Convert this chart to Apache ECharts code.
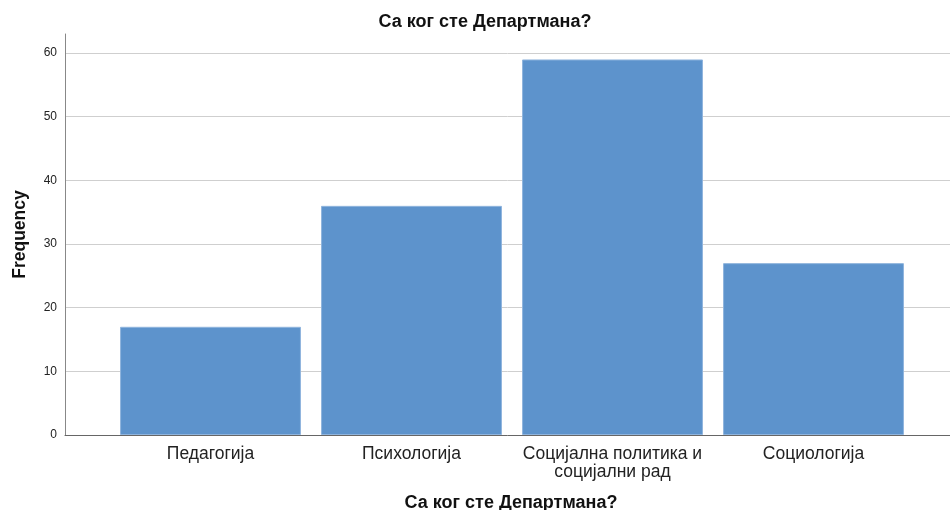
<!DOCTYPE html>
<html><head><meta charset="utf-8">
<script src="https://cdn.jsdelivr.net/npm/echarts@6/dist/echarts.min.js"></script>
<style>html,body{margin:0;padding:0;background:#fff}#c{width:950px;height:510px}</style>
</head><body><div id="c"></div>
<script>
const titleText = 'Са ког сте Департмана?';
const categories = ['Педагогија', 'Психологија', 'Социјална политика и\nсоцијални рад', 'Социологија'];
const frequencies = [17, 36, 59, 27];
const yTicks = { min: 0, max: 63, interval: 10 };

const font = 'Arial, "Liberation Sans", sans-serif';
const chart = echarts.init(document.getElementById('c'), null, { renderer: 'canvas' });
chart.setOption({
  animation: false,
  backgroundColor: '#fff',
  title: {
    text: titleText, left: 480, top: 8, textAlign: 'center',
    textStyle: { fontFamily: font, fontSize: 18, fontWeight: 'bold', color: '#111' }
  },
  grid: [
    { left: 65, right: 0, top: 34, bottom: 75, containLabel: false, outerBoundsMode: 'none' },
    { left: 110, right: 36, top: 34, bottom: 75, containLabel: false, outerBoundsMode: 'none' }
  ],
  xAxis: [
    {
      gridIndex: 0, type: 'value', min: 0, max: 1,
      axisLine: { show: true, onZero: false, lineStyle: { color: '#666', width: 1 } },
      axisTick: { show: false }, axisLabel: { show: false }, splitLine: { show: false },
      name: titleText, nameLocation: 'middle', nameGap: 59,
      nameTextStyle: { fontFamily: font, fontSize: 18, fontWeight: 'bold', color: '#111', padding: [0, 0, 0, 7] }
    },
    {
      gridIndex: 1, type: 'category', data: categories,
      axisLine: { show: false }, axisTick: { show: false },
      axisLabel: { fontFamily: font, fontSize: 17.5, color: '#222', margin: 10, lineHeight: 18, interval: 0 }
    }
  ],
  yAxis: [
    {
      gridIndex: 0, type: 'value', min: yTicks.min, max: yTicks.max, interval: yTicks.interval,
      axisLine: { show: true, lineStyle: { color: '#888', width: 1 } },
      axisTick: { show: false },
      axisLabel: { fontFamily: font, fontSize: 12, color: '#222', margin: 8, showMaxLabel: false },
      splitLine: { show: true, showMaxLine: false, lineStyle: { color: '#cfcfcf', width: 1 } },
      name: 'Frequency', nameLocation: 'middle', nameGap: 36, nameRotate: 90,
      nameTextStyle: { fontFamily: font, fontSize: 17.5, fontWeight: 'bold', color: '#111' }
    },
    {
      gridIndex: 1, type: 'value', min: yTicks.min, max: yTicks.max, interval: yTicks.interval,
      show: false, splitLine: { show: false }
    }
  ],
  series: [{
    type: 'bar', xAxisIndex: 1, yAxisIndex: 1, data: frequencies,
    barCategoryGap: '10%',
    itemStyle: { color: '#5d93cc', borderColor: '#8fb4dd', borderWidth: 1 }
  }]
});
</script></body></html>
